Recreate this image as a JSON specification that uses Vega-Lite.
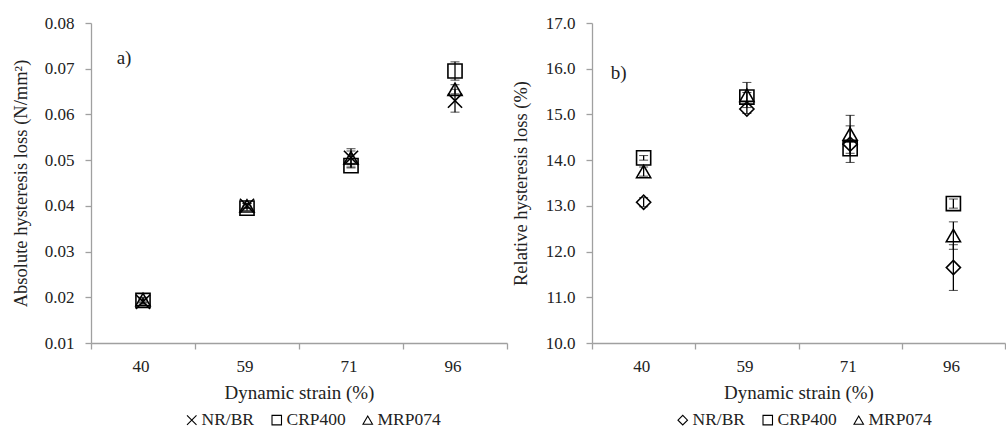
{
  "$schema": "https://vega.github.io/schema/vega-lite/v6.json",
  "padding": {"left": 11, "top": 14, "right": 0, "bottom": 0},
  "background": "white",
  "spacing": 3,
  "config": {
    "view": {"stroke": null},
    "font": "Liberation Serif",
    "axis": {"labelFont": "Liberation Serif", "titleFont": "Liberation Serif", "labelFontSize": 17, "titleFontSize": 18.5, "titleFontWeight": "normal", "labelColor": "#222", "titleColor": "#222", "domainColor": "#a0a0a0", "tickColor": "#a0a0a0", "grid": false, "tickSize": 6, "domainWidth": 1.3, "tickWidth": 1.3},
    "legend": {"labelFont": "Liberation Serif", "labelFontSize": 17.5, "labelColor": "#222"}
  },
  "datasets": {
    "a": [
      {"strain": "40", "series": "NR/BR", "value": 0.0190, "lo": 0.0185, "hi": 0.0195},
      {"strain": "59", "series": "NR/BR", "value": 0.0400, "lo": 0.0395, "hi": 0.0405},
      {"strain": "71", "series": "NR/BR", "value": 0.0505, "lo": 0.0485, "hi": 0.0525},
      {"strain": "96", "series": "NR/BR", "value": 0.0630, "lo": 0.0605, "hi": 0.0655},
      {"strain": "40", "series": "CRP400", "value": 0.0193, "lo": 0.0188, "hi": 0.0198},
      {"strain": "59", "series": "CRP400", "value": 0.0395, "lo": 0.0390, "hi": 0.0400},
      {"strain": "71", "series": "CRP400", "value": 0.0488, "lo": 0.0483, "hi": 0.0493},
      {"strain": "96", "series": "CRP400", "value": 0.0695, "lo": 0.0675, "hi": 0.0715},
      {"strain": "40", "series": "MRP074", "value": 0.0195, "lo": 0.0190, "hi": 0.0200},
      {"strain": "59", "series": "MRP074", "value": 0.0400, "lo": 0.0395, "hi": 0.0405},
      {"strain": "71", "series": "MRP074", "value": 0.0505, "lo": 0.0490, "hi": 0.0520},
      {"strain": "96", "series": "MRP074", "value": 0.0655, "lo": 0.0645, "hi": 0.0665}
    ],
    "b": [
      {"strain": "40", "series": "NR/BR", "value": 13.08, "lo": 12.98, "hi": 13.18},
      {"strain": "59", "series": "NR/BR", "value": 15.12, "lo": 15.02, "hi": 15.22},
      {"strain": "71", "series": "NR/BR", "value": 14.35, "lo": 13.95, "hi": 14.75},
      {"strain": "96", "series": "NR/BR", "value": 11.65, "lo": 11.15, "hi": 12.15},
      {"strain": "40", "series": "CRP400", "value": 14.05, "lo": 14.0, "hi": 14.1},
      {"strain": "59", "series": "CRP400", "value": 15.38, "lo": 15.28, "hi": 15.48},
      {"strain": "71", "series": "CRP400", "value": 14.25, "lo": 14.1, "hi": 14.4},
      {"strain": "96", "series": "CRP400", "value": 13.05, "lo": 12.95, "hi": 13.15},
      {"strain": "40", "series": "MRP074", "value": 13.75, "lo": 13.65, "hi": 13.85},
      {"strain": "59", "series": "MRP074", "value": 15.42, "lo": 15.15, "hi": 15.7},
      {"strain": "71", "series": "MRP074", "value": 14.57, "lo": 14.15, "hi": 14.98},
      {"strain": "96", "series": "MRP074", "value": 12.35, "lo": 12.05, "hi": 12.65}
    ],
    "la": [{"strain": "40", "value": 0.0723, "label": "a)"}],
    "lb": [{"strain": "40", "value": 15.9, "label": "b)"}]
  },
  "resolve": {"scale": {"shape": "independent", "y": "independent", "x": "independent"}, "legend": {"shape": "independent"}},
  "hconcat": [
    {
      "width": 416,
      "height": 320,
      "layer": [
        {
          "data": {"name": "a"},
          "mark": {"type": "errorbar", "ticks": {"size": 9, "color": "black", "strokeWidth": 1.3}, "rule": {"color": "black", "strokeWidth": 1.3}},
          "encoding": {
            "x": {"field": "strain", "type": "nominal"},
            "y": {"field": "lo", "type": "quantitative", "title": "Absolute hysteresis loss (N/mm²)"},
            "y2": {"field": "hi"},
            "detail": {"field": "series"}
          }
        },
        {
          "data": {"name": "a"},
          "mark": {"type": "point", "filled": false, "color": "black", "strokeWidth": 1.6, "size": 200, "opacity": 1},
          "encoding": {
            "x": {"field": "strain", "type": "nominal", "title": "Dynamic strain (%)", "scale": {"type": "band", "paddingInner": 0, "paddingOuter": 0}, "axis": {"labelAngle": 0, "tickBand": "extent", "labelOffset": 6, "labelPadding": 17, "titlePadding": 9, "titleFontSize": 19}},
            "y": {"field": "value", "type": "quantitative", "title": "Absolute hysteresis loss (N/mm²)", "scale": {"domain": [0.01, 0.08], "nice": false, "zero": false}, "axis": {"values": [0.01, 0.02, 0.03, 0.04, 0.05, 0.06, 0.07, 0.08], "format": ".2f", "labelPadding": 11, "titlePadding": 14}},
            "shape": {"field": "series", "type": "nominal", "scale": {"domain": ["NR/BR", "CRP400", "MRP074"], "range": ["M-1,-1L1,1M-1,1L1,-1", "square", "triangle-up"]}, "legend": {"title": null, "orient": "none", "legendX": 92, "legendY": 388, "direction": "horizontal", "symbolStrokeColor": "black", "symbolFillColor": "transparent", "symbolSize": 90, "symbolStrokeWidth": 1.1, "labelOffset": 1, "columnPadding": 13}}
          }
        },
        {
          "data": {"name": "la"},
          "mark": {"type": "text", "fontSize": 19, "font": "Liberation Serif", "color": "#222", "dx": -19},
          "encoding": {
            "x": {"field": "strain", "type": "nominal"},
            "y": {"field": "value", "type": "quantitative"},
            "text": {"field": "label"}
          }
        }
      ]
    },
    {
      "width": 413,
      "height": 320,
      "layer": [
        {
          "data": {"name": "b"},
          "mark": {"type": "errorbar", "ticks": {"size": 9, "color": "black", "strokeWidth": 1.3}, "rule": {"color": "black", "strokeWidth": 1.3}},
          "encoding": {
            "x": {"field": "strain", "type": "nominal"},
            "y": {"field": "lo", "type": "quantitative", "title": "Relative hysteresis loss (%)"},
            "y2": {"field": "hi"},
            "detail": {"field": "series"}
          }
        },
        {
          "data": {"name": "b"},
          "mark": {"type": "point", "filled": false, "color": "black", "strokeWidth": 1.6, "size": 200, "opacity": 1},
          "encoding": {
            "x": {"field": "strain", "type": "nominal", "title": "Dynamic strain (%)", "scale": {"type": "band", "paddingInner": 0, "paddingOuter": 0}, "axis": {"labelAngle": 0, "tickBand": "extent", "labelOffset": 6, "labelPadding": 17, "titlePadding": 9, "titleFontSize": 19}},
            "y": {"field": "value", "type": "quantitative", "title": "Relative hysteresis loss (%)", "scale": {"domain": [10, 17], "nice": false, "zero": false}, "axis": {"values": [10, 11, 12, 13, 14, 15, 16, 17], "format": ".1f", "labelPadding": 11, "titlePadding": 15}},
            "shape": {"field": "series", "type": "nominal", "scale": {"domain": ["NR/BR", "CRP400", "MRP074"], "range": ["diamond", "square", "triangle-up"]}, "legend": {"title": null, "orient": "none", "legendX": 82, "legendY": 388, "direction": "horizontal", "symbolStrokeColor": "black", "symbolFillColor": "transparent", "symbolSize": 90, "symbolStrokeWidth": 1.1, "labelOffset": 1, "columnPadding": 13}}
          }
        },
        {
          "data": {"name": "lb"},
          "mark": {"type": "text", "fontSize": 19, "font": "Liberation Serif", "color": "#222", "dx": -25},
          "encoding": {
            "x": {"field": "strain", "type": "nominal"},
            "y": {"field": "value", "type": "quantitative"},
            "text": {"field": "label"}
          }
        }
      ]
    }
  ]
}
